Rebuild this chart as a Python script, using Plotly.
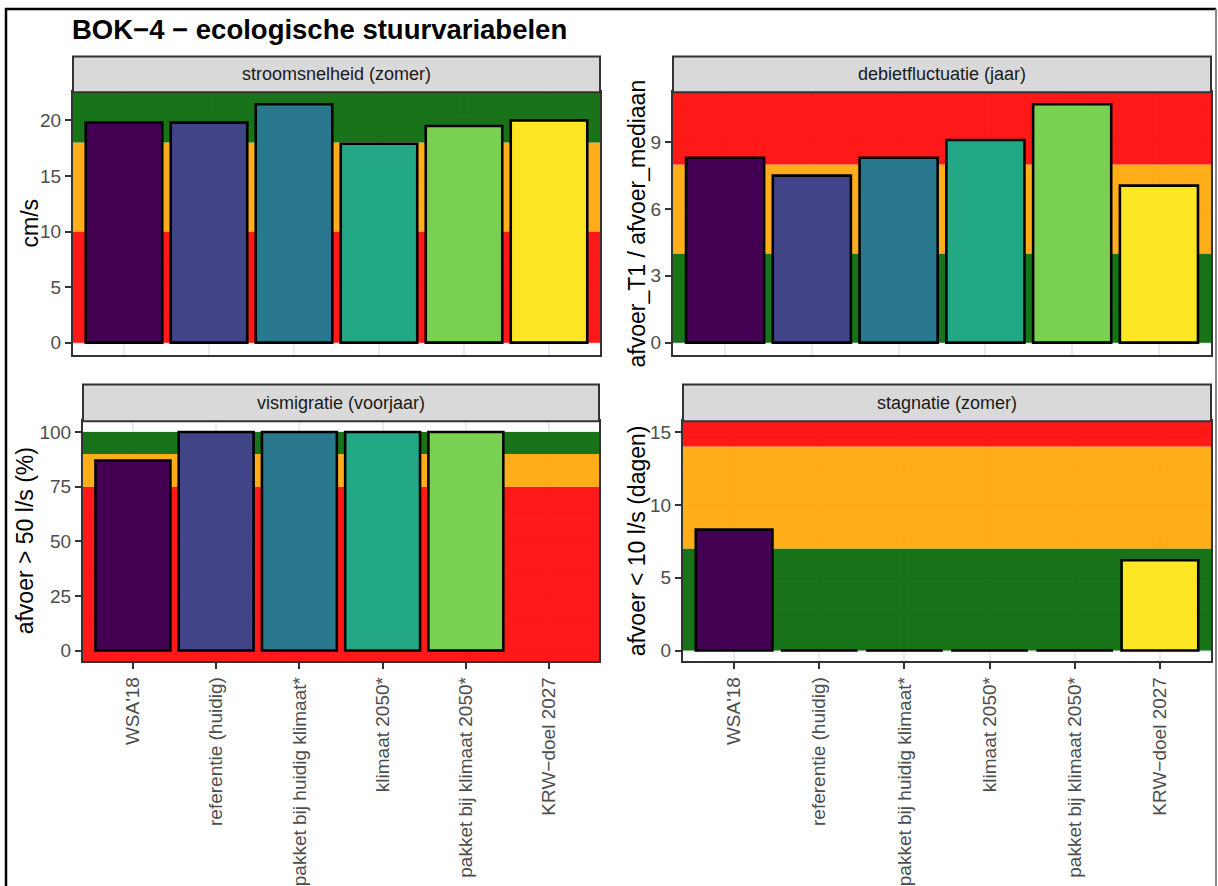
import plotly.graph_objects as go

W, H = 1218, 886

categories = ["WSA'18", "referentie (huidig)", "pakket bij huidig klimaat*",
              "klimaat 2050*", "pakket bij klimaat 2050*", "KRW\u2212doel 2027"]
bar_colors = ["#440154", "#414487", "#2A788E", "#22A884", "#7AD151", "#FDE725"]

stroomsnelheid = [19.8, 19.8, 21.45, 17.9, 19.5, 20.0]
debietfluctuatie = [8.3, 7.5, 8.3, 9.1, 10.7, 7.05]
vismigratie = [87, 100, 100, 100, 100, None]
stagnatie = [8.3, 0, 0, 0, 0, 6.2]

# band limits (None = open ended)
bands_stroom = [(0, 10, "red"), (10, 18, "orange"), (18, None, "green")]
bands_debiet = [(0, 4, "green"), (4, 8, "orange"), (8, None, "red")]
bands_vis = [(None, 75, "red"), (75, 90, "orange"), (90, 100, "green")]
bands_stag = [(0, 7, "green"), (7, 14, "orange"), (14, None, "red")]

band_colors = {"red": "#FF0000", "orange": "#FFA500", "green": "#006400"}

panels = [
    dict(title="stroomsnelheid (zomer)", vals=stroomsnelheid, bands=bands_stroom,
         ytitle="cm/s", yrange=[-1.0725, 22.52], dtick=5,
         px=(73, 600), py=(93, 357), strip=(57, 93), yt_x=30, bottom=False),
    dict(title="debietfluctuatie (jaar)", vals=debietfluctuatie, bands=bands_debiet,
         ytitle="afvoer_T1 / afvoer_mediaan", yrange=[-0.535, 11.235], dtick=3,
         px=(673, 1211), py=(93, 357), strip=(57, 93), yt_x=637, bottom=False),
    dict(title="vismigratie (voorjaar)", vals=vismigratie, bands=bands_vis,
         ytitle="afvoer > 50 l/s (%)", yrange=[-5, 105], dtick=25,
         px=(83, 599), py=(424, 666), strip=(387, 424), yt_x=25, bottom=True),
    dict(title="stagnatie (zomer)", vals=stagnatie, bands=bands_stag,
         ytitle="afvoer < 10 l/s (dagen)", yrange=[-0.75, 15.75], dtick=5,
         px=(683, 1211), py=(424, 666), strip=(387, 424), yt_x=637, bottom=True),
]

FONT = "Liberation Sans, Arial, sans-serif"
fig = go.Figure()
shapes = []
annotations = []
layout = {}

ncat = len(categories)
xpos = list(range(ncat))
xrange_ = [-0.6, ncat - 1 + 0.6]

for i, p in enumerate(panels):
    n = "" if i == 0 else str(i + 1)
    xa, ya = "x" + n, "y" + n
    # coloured bands (drawn first so they sit under the data bars)
    for lo, hi, c in p["bands"]:
        b0 = p["yrange"][0] if lo is None else lo
        b1 = p["yrange"][1] if hi is None else hi
        fig.add_trace(go.Bar(
            x=[(xrange_[0] + xrange_[1]) / 2], y=[b1 - b0], base=[b0],
            width=[xrange_[1] - xrange_[0]],
            marker=dict(color=band_colors[c], opacity=0.9, line=dict(width=0)),
            xaxis=xa, yaxis=ya, showlegend=False, hoverinfo="skip"))
    fig.add_trace(go.Bar(
        x=xpos, y=p["vals"], width=0.9,
        marker=dict(color=bar_colors, line=dict(color="black", width=2.6)),
        customdata=categories, hovertemplate="%{customdata}: %{y}<extra></extra>",
        xaxis=xa, yaxis=ya, showlegend=False))
    x0, x1 = p["px"][0] / W, p["px"][1] / W
    y0, y1 = 1 - p["py"][1] / H, 1 - p["py"][0] / H
    layout["xaxis" + n] = dict(
        domain=[x0, x1], anchor=ya, range=xrange_,
        tickmode="array", tickvals=xpos, ticktext=categories,
        showgrid=True, gridcolor="#EBEBEB", gridwidth=1.5,
        showline=True, mirror=True, linecolor="#333333", linewidth=2,
        ticks="outside" if p["bottom"] else "", ticklen=6, tickwidth=2, tickcolor="#333333",
        showticklabels=p["bottom"], tickangle=-90,
        tickfont=dict(family=FONT, size=19, color="#4D4D4D"), zeroline=False,
        fixedrange=True)
    layout["yaxis" + n] = dict(
        domain=[y0, y1], anchor=xa, range=p["yrange"], tick0=0, dtick=p["dtick"],
        showgrid=True, gridcolor="#EBEBEB", gridwidth=1.5,
        minor=dict(tick0=0, dtick=p["dtick"] / 2, showgrid=True, gridcolor="#EBEBEB", gridwidth=0.8),
        showline=True, mirror=True, linecolor="#333333", linewidth=2,
        ticks="outside", ticklen=6, tickwidth=2, tickcolor="#333333",
        tickfont=dict(family=FONT, size=19, color="#4D4D4D"), zeroline=False,
        fixedrange=True)
    # strip
    s0, s1 = 1 - p["strip"][1] / H, 1 - p["strip"][0] / H
    shapes.append(dict(type="rect", xref="paper", yref="paper", x0=x0, x1=x1, y0=s0, y1=s1,
                       fillcolor="#D9D9D9", line=dict(color="#333333", width=2), layer="above"))
    annotations.append(dict(text=p["title"], xref="paper", yref="paper", x=(x0 + x1) / 2,
                            y=(s0 + s1) / 2, showarrow=False, xanchor="center", yanchor="middle",
                            font=dict(family=FONT, size=18, color="#1A1A1A")))
    annotations.append(dict(text=p["ytitle"], xref="paper", yref="paper", x=p["yt_x"] / W,
                            y=(y0 + y1) / 2, showarrow=False, textangle=-90,
                            xanchor="center", yanchor="middle",
                            font=dict(family=FONT, size=23, color="black")))

annotations.append(dict(text="<b>BOK\u22124 \u2212 ecologische stuurvariabelen</b>", xref="paper", yref="paper",
                        x=70 / W, y=1 - 30 / H, showarrow=False, xanchor="left", yanchor="middle",
                        font=dict(family=FONT, size=27.5, color="black")))

# outer frame
shapes.append(dict(type="line", xref="paper", yref="paper", x0=6 / W, x1=6 / W, y0=-0.01, y1=1 - 8 / H,
                   line=dict(color="black", width=2.5), layer="above"))
shapes.append(dict(type="line", xref="paper", yref="paper", x0=5 / W, x1=1216 / W, y0=1 - 9 / H, y1=1 - 9 / H,
                   line=dict(color="black", width=2.5), layer="above"))
shapes.append(dict(type="line", xref="paper", yref="paper", x0=1216 / W, x1=1216 / W, y0=-0.01, y1=1 - 9 / H,
                   line=dict(color="#888888", width=2), layer="above"))

fig.update_layout(width=W, height=H, margin=dict(l=0, r=0, t=0, b=0),
                  paper_bgcolor="white", plot_bgcolor="white", barmode="overlay",
                  shapes=shapes, annotations=annotations, showlegend=False,
                  font=dict(family=FONT), **layout)

fig.write_html("out.html", config={"displayModeBar": False},
               post_script="document.body.style.margin='0';")
